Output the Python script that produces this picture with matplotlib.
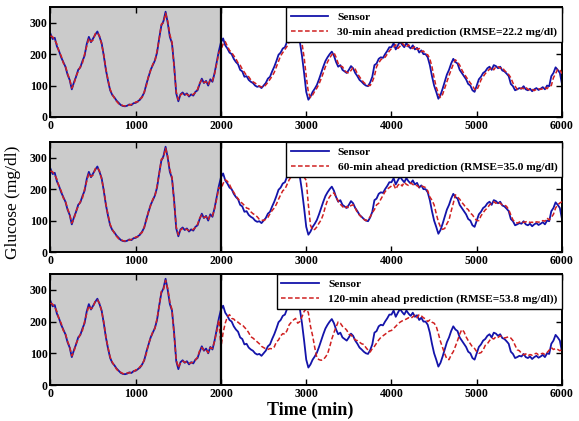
import numpy as np
import matplotlib
matplotlib.use("Agg")
from matplotlib import pyplot as plt

plt.rcParams['font.family'] = ['Liberation Serif', 'DejaVu Serif']

# time axis, one reading every 25 min
step = 25
t_end = 6000
split = 2000

# CGM sensor trace (0..6000 min)
sensor = [
    265, 248, 252, 225, 210, 190, 175, 160, 135, 118,
    88, 110, 128, 150, 158, 178, 195, 232, 255, 238,
    250, 262, 272, 255, 235, 195, 150, 115, 85, 70,
    62, 52, 45, 38, 35, 34, 36, 40, 38, 44,
    45, 50, 55, 65, 78, 105, 128, 150, 165, 180,
    205, 250, 290, 305, 335, 300, 255, 235, 165, 75,
    50, 72, 78, 70, 75, 65, 72, 68, 80, 85,
    105, 122, 108, 115, 100, 120, 112, 140, 175, 210,
    238, 250, 228, 218, 205, 200, 185, 175, 168, 150,
    145, 128, 130, 118, 112, 108, 100, 96, 98, 92,
    100, 108, 122, 128, 145, 160, 178, 198, 205, 218,
    222, 240, 250, 262, 275, 265, 250, 240, 195, 140,
    80, 55, 65, 80, 90, 102, 120, 140, 160, 178,
    190, 200, 208, 195, 175, 160, 165, 150, 145, 140,
    150, 162, 155, 140, 130, 118, 112, 105, 100, 98,
    110, 128, 165, 170, 185, 190, 188, 200, 210, 222,
    222, 235, 215, 228, 240, 230, 222, 235, 225, 218,
    228, 215, 220, 205, 212, 200, 200, 190, 165, 130,
    100, 80, 58, 70, 90, 112, 135, 150, 170, 185,
    175, 170, 150, 140, 130, 120, 105, 100, 85, 80,
    100, 120, 128, 140, 145, 155, 160, 150, 165, 162,
    155, 160, 148, 145, 138, 130, 105, 98, 85, 88,
    92, 90, 98, 88, 85, 90, 82, 88, 92, 86,
    90, 95, 88, 100, 98, 130, 140, 158, 150, 140,
    105,
]

# model fit on the training part (0..1975 min)
train_fit = [
    258, 255, 245, 232, 208, 195, 172, 162, 138, 120,
    92, 105, 130, 145, 160, 172, 200, 225, 250, 240,
    245, 265, 268, 258, 232, 198, 152, 118, 88, 72,
    60, 50, 42, 40, 36, 35, 38, 38, 40, 42,
    48, 48, 58, 62, 80, 100, 130, 148, 168, 178,
    210, 248, 295, 300, 330, 305, 262, 238, 160, 80,
    55, 70, 75, 72, 72, 68, 70, 72, 78, 88,
    108, 118, 110, 112, 102, 118, 115, 138, 170, 205,
]

# predictions on the test part (2000..6000 min)
pred_30 = [
    215, 232, 240, 225, 212, 205, 195, 185, 172, 165,
    152, 142, 132, 128, 118, 112, 108, 102, 98, 96,
    95, 102, 110, 120, 130, 142, 160, 178, 195, 205,
    215, 225, 238, 250, 262, 270, 262, 250, 235, 190,
    130, 78, 62, 70, 82, 92, 105, 122, 140, 160,
    175, 188, 198, 205, 190, 170, 162, 160, 148, 142,
    140, 148, 158, 152, 138, 128, 118, 110, 104, 100,
    100, 112, 130, 160, 172, 182, 188, 190, 200, 210,
    218, 222, 230, 218, 225, 235, 228, 222, 230, 222,
    218, 225, 215, 218, 208, 210, 200, 198, 185, 160,
    125, 95, 75, 62, 72, 92, 112, 132, 150, 168,
    182, 175, 165, 150, 138, 128, 118, 108, 100, 88,
    85, 100, 118, 128, 138, 145, 152, 158, 150, 160,
    160, 155, 158, 148, 142, 135, 125, 108, 98, 88,
    88, 92, 90, 95, 88, 86, 88, 84, 88, 90,
    88, 90, 94, 90, 98, 100, 125, 138, 152, 150,
    138,
]

pred_60 = [
    200, 218, 230, 225, 215, 200, 190, 178, 170, 160,
    155, 148, 140, 138, 128, 122, 118, 112, 104, 102,
    100, 104, 110, 122, 132, 140, 152, 168, 182, 195,
    200, 215, 230, 240, 250, 262, 270, 255, 245, 238,
    228, 150, 85, 70, 72, 80, 92, 102, 120, 145,
    165, 176, 185, 188, 175, 162, 152, 145, 138, 145,
    140, 148, 150, 140, 125, 118, 110, 104, 100, 104,
    112, 125, 135, 150, 155, 168, 180, 192, 200, 205,
    210, 215, 200, 212, 218, 210, 222, 215, 212, 220,
    215, 210, 212, 205, 210, 208, 205, 195, 175, 165,
    150, 122, 96, 80, 72, 75, 90, 102, 130, 155,
    182, 175, 168, 158, 150, 140, 135, 124, 118, 108,
    100, 100, 115, 125, 134, 140, 150, 155, 160, 155,
    160, 155, 150, 150, 145, 135, 118, 102, 96, 92,
    95, 98, 94, 96, 98, 94, 95, 92, 96, 95,
    96, 100, 98, 108, 102, 110, 120, 140, 150, 156,
    160,
]

pred_120 = [
    120, 165, 195, 215, 222, 210, 208, 200, 198, 192,
    190, 182, 175, 165, 152, 148, 142, 136, 130, 122,
    118, 114, 112, 115, 114, 120, 136, 142, 155, 162,
    160, 172, 190, 198, 205, 210, 195, 200, 215, 232,
    240, 228, 185, 155, 118, 85, 80, 78, 80, 88,
    98, 120, 145, 165, 183, 199, 195, 185, 180, 173,
    160, 158, 150, 142, 140, 135, 130, 128, 118, 110,
    104, 115, 122, 132, 142, 150, 155, 160, 165, 170,
    172, 178, 185, 192, 198, 202, 205, 208, 212, 210,
    215, 220, 212, 222, 218, 212, 208, 200, 205, 198,
    195, 185, 162, 137, 118, 98, 82, 80, 95, 105,
    122, 140, 160, 175, 168, 152, 140, 130, 120, 115,
    105, 100, 102, 110, 125, 130, 140, 148, 145, 152,
    150, 155, 152, 148, 150, 152, 148, 140, 125, 111,
    108, 100, 95, 98, 92, 96, 94, 98, 100, 95,
    98, 100, 96, 102, 110, 118, 112, 115, 112, 108,
    112,
]

horizons = ['30', '60', '120']
rmse = ['22.2', '35.0', '53.8']
preds = [pred_30, pred_60, pred_120]
closing = ['', '', ')']

t = np.arange(0, t_end + step, step)

fig = plt.figure(figsize=(5.79, 4.21), dpi=100)
boxes = [
    [0.0872, 0.7221, 0.8834, 0.2613],
    [0.0872, 0.4014, 0.8834, 0.2613],
    [0.0872, 0.0855, 0.8834, 0.2637],
]

for box, h, r, p, c in zip(boxes, horizons, rmse, preds, closing):
    ax = fig.add_axes(box)
    ax.axvspan(0, split, color='#cbcbcb', lw=0, zorder=0)
    pred = np.array(train_fit + p)
    ax.plot(t, sensor, color='#1414aa', lw=1.3, label='Sensor', zorder=2)
    ax.plot(t, pred, color='#d02020', lw=1.1, ls=(0, (3, 1.6)),
            label=f'{h}-min ahead prediction (RMSE={r} mg/dl){c}', zorder=3)
    ax.axvline(split, color='black', lw=1.6, zorder=4)
    ax.set_xlim(0, t_end)
    ax.set_ylim(0, 350)
    ax.set_xticks(range(0, 6001, 1000))
    ax.set_yticks([0, 100, 200, 300])
    ax.tick_params(direction='in', top=True, right=True, length=4,
                   width=1, labelsize=8.5, pad=2)
    for lbl in ax.get_xticklabels() + ax.get_yticklabels():
        lbl.set_fontweight('bold')
    for s in ax.spines.values():
        s.set_linewidth(1.4)
    leg = ax.legend(loc='upper right', borderaxespad=0, fancybox=False,
                    edgecolor='black', framealpha=1, handlelength=3.3,
                    prop={'weight': 'bold', 'size': 8.2}, borderpad=0.4,
                    labelspacing=0.5)
    leg.get_frame().set_linewidth(1.0)
    leg.set_zorder(10)

fig.text(0.022, 0.52, 'Glucose (mg/dl)', rotation=90, va='center',
         ha='center', fontsize=12.5)
fig.text(0.535, 0.025, 'Time (min)', ha='center', va='center',
         fontsize=13, fontweight='bold')

plt.savefig('out.png', dpi=100)
